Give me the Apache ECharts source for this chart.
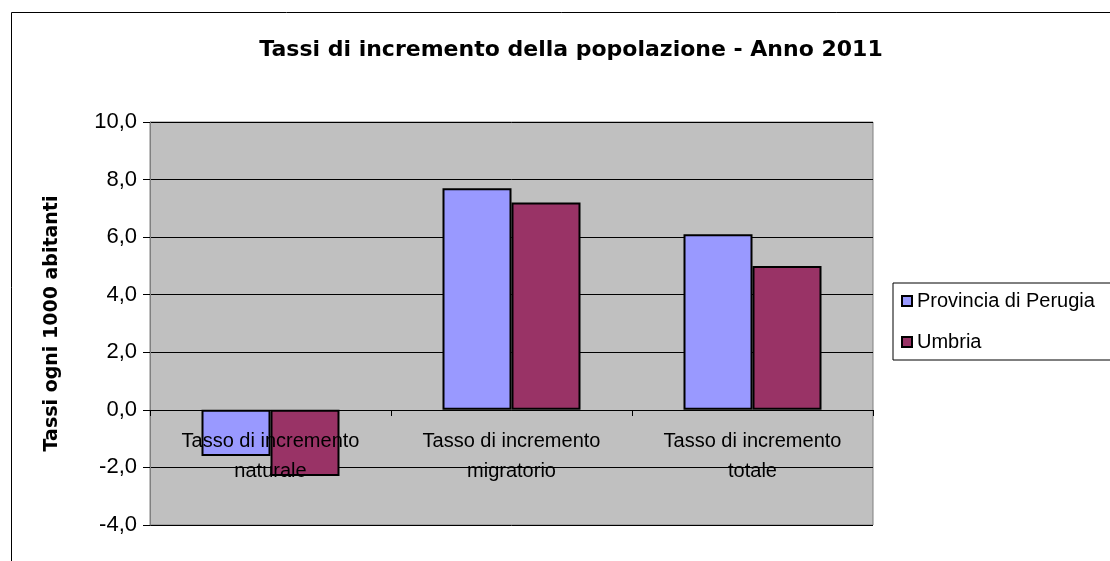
<!DOCTYPE html>
<html>
<head>
<meta charset="utf-8">
<script src="https://cdn.jsdelivr.net/npm/echarts@6/dist/echarts.min.js"></script>
<style>
  html, body { margin: 0; padding: 0; background: #fff; }
  #chart { width: 1110px; height: 561px; }
</style>
</head>
<body>
<div id="chart"></div>
<script>
// dati
const categories = [
  "Tasso di incremento naturale",
  "Tasso di incremento migratorio",
  "Tasso di incremento totale",
];
const perugia = [-1.6, 7.7, 6.1];
const umbria = [-2.3, 7.2, 5.0];
const seriesNames = ["Provincia di Perugia", "Umbria"];
const yMin = -4;
const yMax = 10;

const chart = echarts.init(document.getElementById("chart"));
const font = "Liberation Sans, Arial, sans-serif";
const wideBold = "DejaVu Sans, Liberation Sans, sans-serif";

const gridTop = 122;
const gridBottom = 36;
const plotHeight = 561 - gridTop - gridBottom;
// asse x spostato sulla linea dello zero
const zeroOffset = -Math.round(((0 - yMin) / (yMax - yMin)) * plotHeight);

const option = {
  animation: false,
  title: {
    text: "Tassi di incremento della popolazione - Anno 2011",
    left: 566,
    top: 34,
    textAlign: "center",
    textStyle: { fontFamily: wideBold, fontSize: 22, fontWeight: "bold", color: "#000" },
  },
  grid: {
    left: 150,
    right: 237,
    top: gridTop,
    bottom: gridBottom,
    outerBoundsMode: "none",
    show: true,
    backgroundColor: "#C0C0C0",
    borderColor: "#808080",
    borderWidth: 1,
  },
  legend: {
    orient: "vertical",
    left: 893,
    top: 283,
    icon: "rect",
    itemWidth: 10,
    itemHeight: 10,
    itemGap: 21,
    padding: [8, 40, 8, 8],
    borderColor: "#000",
    borderWidth: 1,
    textStyle: { fontFamily: font, fontSize: 20, color: "#000" },
    data: seriesNames,
  },
  xAxis: {
    type: "category",
    data: categories,
    z: 3,
    offset: zeroOffset,
    axisLine: { onZero: false, lineStyle: { color: "#000", width: 1 } },
    axisTick: { show: true, length: 6, lineStyle: { color: "#000" } },
    axisLabel: {
      interval: 0,
      margin: 16,
      fontFamily: font,
      fontSize: 20,
      lineHeight: 30,
      color: "#000",
      formatter: (v) => v.replace("incremento ", "incremento\n"),
    },
  },
  yAxis: {
    type: "value",
    min: yMin,
    max: yMax,
    interval: 2,
    name: "Tassi ogni 1000 abitanti",
    nameLocation: "middle",
    nameGap: 88,
    nameTextStyle: { fontFamily: wideBold, fontSize: 19, fontWeight: "bold", color: "#000" },
    axisLine: { show: true, lineStyle: { color: "#808080" } },
    axisTick: { show: true, length: 7, lineStyle: { color: "#000" } },
    axisLabel: {
      margin: 13,
      fontFamily: font,
      fontSize: 22,
      color: "#000",
      formatter: (v) => v.toFixed(1).replace(".", ","),
    },
    splitLine: { lineStyle: { color: "#000", width: 1 } },
  },
  series: [
    {
      name: seriesNames[0],
      type: "bar",
      data: perugia,
      barWidth: 69,
      barGap: "0%",
      itemStyle: { color: "#9999FF", borderColor: "#000", borderWidth: 2 },
    },
    {
      name: seriesNames[1],
      type: "bar",
      data: umbria,
      barWidth: 69,
      itemStyle: { color: "#993366", borderColor: "#000", borderWidth: 2 },
    },
  ],
  graphic: [
    {
      type: "rect",
      left: 9,
      top: 10,
      shape: { width: 1200, height: 700 },
      style: { fill: "none", stroke: "#000", lineWidth: 1 },
      silent: true,
    },
  ],
};

chart.setOption(option);
</script>
</body>
</html>
